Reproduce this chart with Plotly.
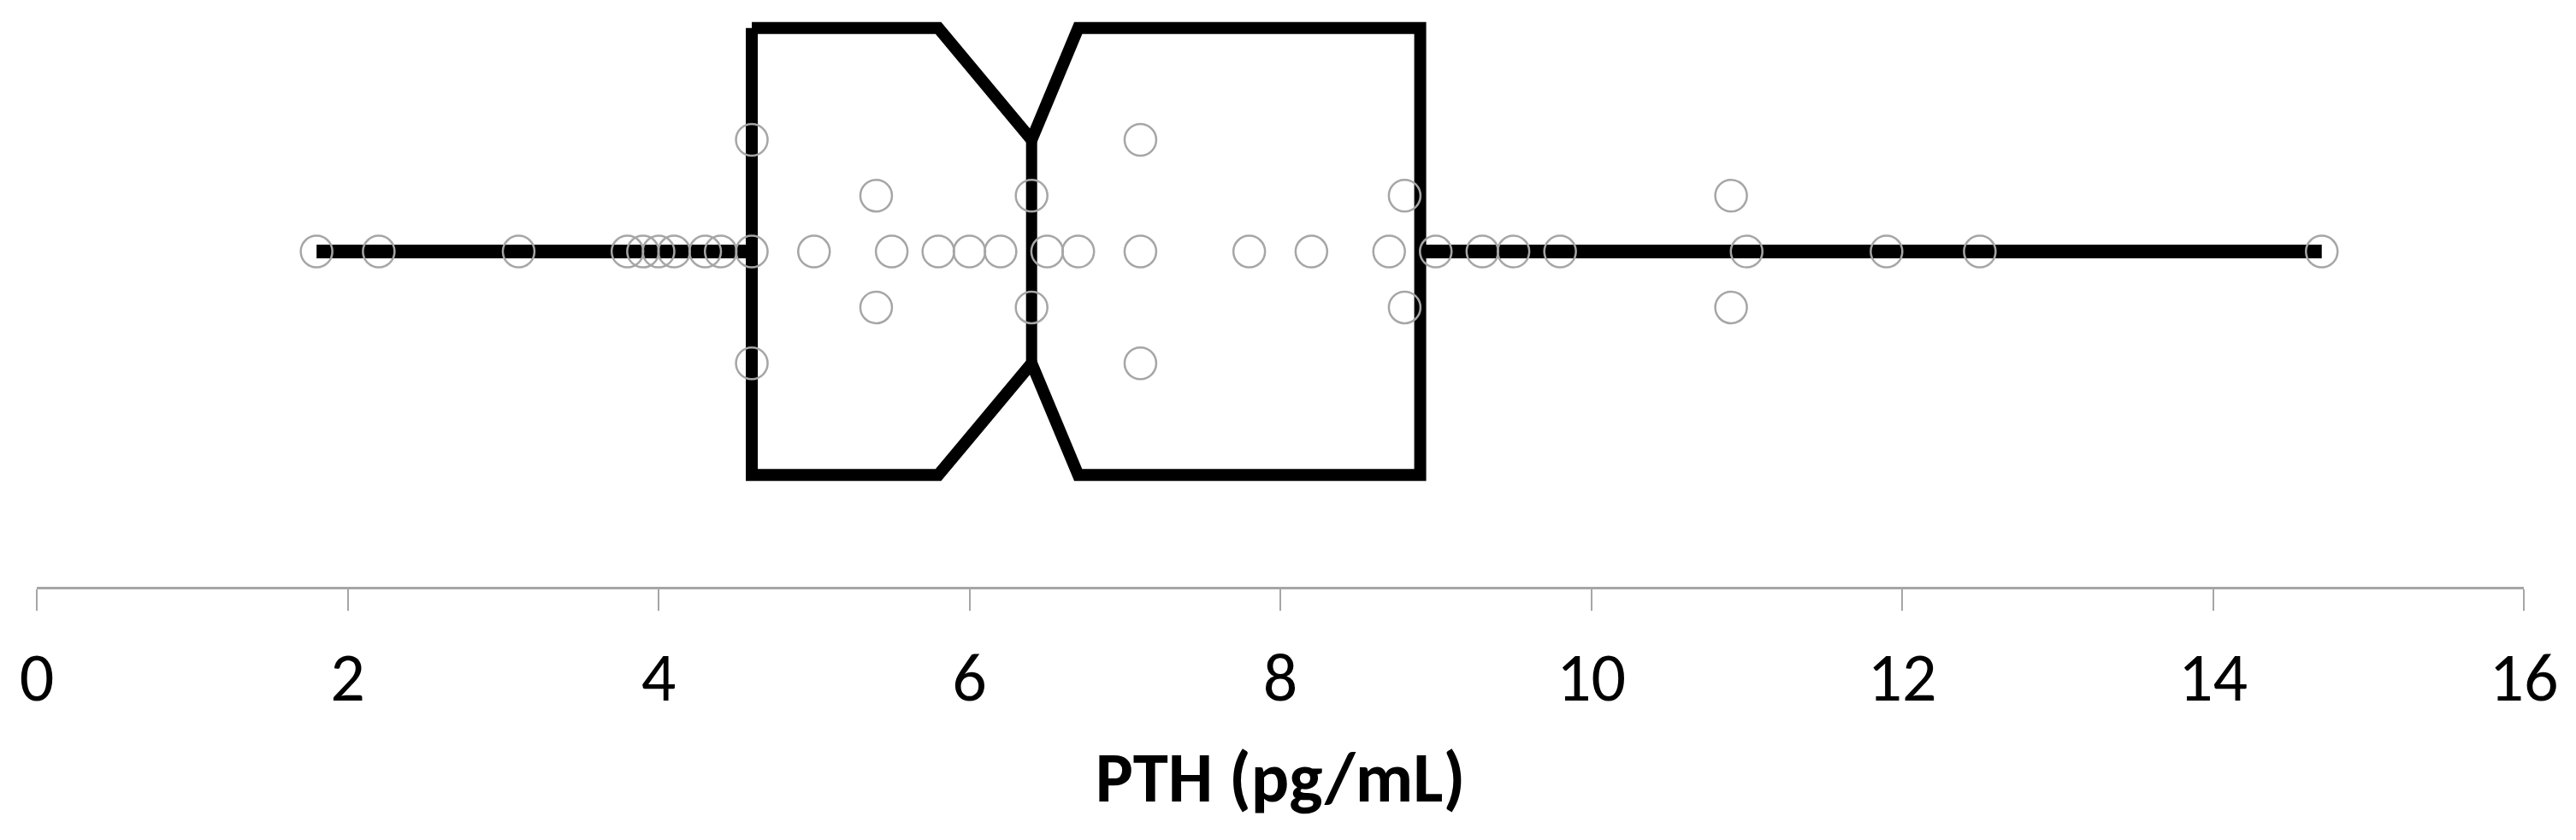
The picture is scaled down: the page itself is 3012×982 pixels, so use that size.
import plotly.graph_objects as go

# individual PTH measurements and their stacking row in the dot strip
pth_values = [1.8, 2.2, 3.1, 3.8, 3.9, 4.0, 4.1, 4.3, 4.4,
              4.6, 4.6, 4.6, 5.0, 5.4, 5.4, 5.5, 5.8, 6.0, 6.2,
              6.4, 6.4, 6.5, 6.7, 7.1, 7.1, 7.1, 7.8, 8.2, 8.7,
              8.8, 8.8, 9.0, 9.3, 9.5, 9.8, 10.9, 10.9, 11.0,
              11.9, 12.5, 14.7]
stack_rows = [0, 0, 0, 0, 0, 0, 0, 0, 0,
              2, 0, -2, 0, 1, -1, 0, 0, 0, 0,
              1, -1, 0, 0, 2, 0, -2, 0, 0, 0,
              1, -1, 0, 0, 0, 0, 1, -1, 0,
              0, 0, 0]

# summary statistics for the notched box
whisker_low = 1.8
q1 = 4.6
notch_low = 5.8
median = 6.4
notch_high = 6.7
q3 = 8.9
whisker_high = 14.7

x_ticks = [0, 2, 4, 6, 8, 10, 12, 14, 16]
x_title = "PTH (pg/mL)"

BOX_HALF = 4
NOTCH_HALF = 2
LINE_W = 14
FONT = "Carlito, Lato, sans-serif"

# notched outline built from the stats
box_x = [q1, notch_low, median, notch_high, q3, q3, notch_high, median, notch_low, q1, q1]
box_y = [BOX_HALF, BOX_HALF, NOTCH_HALF, BOX_HALF, BOX_HALF, -BOX_HALF, -BOX_HALF,
         -NOTCH_HALF, -BOX_HALF, -BOX_HALF, BOX_HALF]

fig = go.Figure()

# whiskers
fig.add_trace(go.Scatter(x=[whisker_low, q1], y=[0, 0], mode="lines",
                         line=dict(color="black", width=LINE_W + 2), hoverinfo="skip"))
fig.add_trace(go.Scatter(x=[q3, whisker_high], y=[0, 0], mode="lines",
                         line=dict(color="black", width=LINE_W + 2), hoverinfo="skip"))
# box + median
fig.add_trace(go.Scatter(x=box_x, y=box_y, mode="lines",
                         line=dict(color="black", width=LINE_W), hoverinfo="skip"))
fig.add_trace(go.Scatter(x=[median, median], y=[NOTCH_HALF, -NOTCH_HALF], mode="lines",
                         line=dict(color="black", width=LINE_W - 1), hoverinfo="skip"))
# data points
fig.add_trace(go.Scatter(
    x=pth_values, y=stack_rows, mode="markers",
    marker=dict(symbol="circle-open", size=37, color="#A6A6A6",
                line=dict(width=2.5, color="#A6A6A6")),
    hovertemplate="%{x}<extra></extra>",
))

# page body has an 8px margin, so the figure is 8px smaller than the window
fig.update_layout(
    width=3004, height=974,
    margin=dict(l=35, r=61, t=0, b=296, autoexpand=False),
    paper_bgcolor="white", plot_bgcolor="white",
    showlegend=False,
    font=dict(family=FONT, color="black"),
    xaxis=dict(
        range=[0, 16], tickvals=x_ticks, ticktext=[str(t) for t in x_ticks],
        automargin=False,
        showgrid=False, zeroline=False,
        showline=True, linecolor="#A6A6A6", linewidth=3,
        ticks="outside", ticklen=25, tickwidth=2, tickcolor="#A6A6A6",
        tickfont=dict(size=80, family=FONT, color="black"),
        ticklabelstandoff=9,
        title=dict(text=x_title,
                   font=dict(size=83, family=FONT, weight="bold", color="black"),
                   standoff=40),
    ),
    yaxis=dict(range=[-6, 4.38], visible=False, showgrid=False, zeroline=False,
               automargin=False),
)

fig.write_html("out.html")
